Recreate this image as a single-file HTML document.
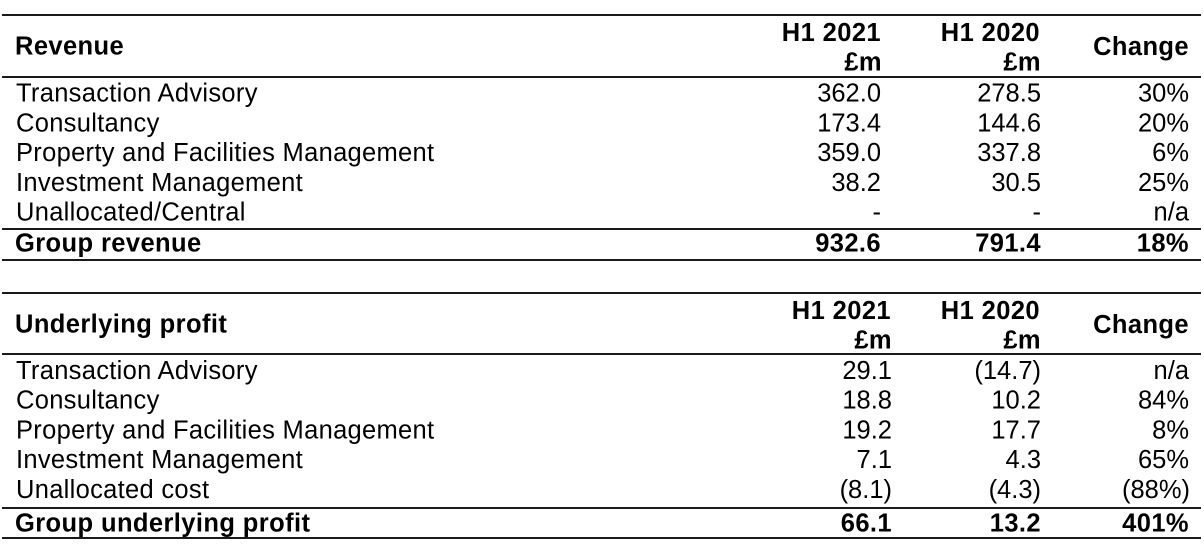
<!DOCTYPE html>
<html>
<head>
<meta charset="utf-8">
<style>
  html, body { margin:0; padding:0; background:#fff; }
  body { width:1204px; height:550px; overflow:hidden; }
  svg { display:block; }
  text { font-family:"Liberation Sans", Arial, Helvetica, sans-serif; font-size:25.5px; fill:#000; }
  .b { font-weight:bold; letter-spacing:0.4px; }
  .l { letter-spacing:0.3px; }
  .e { text-anchor:end; }
</style>
</head>
<body>
<svg width="1204" height="550" viewBox="0 0 1204 550" xmlns="http://www.w3.org/2000/svg">
  <!-- Table 1 rules -->
  <rect x="2" y="14" width="1199" height="2" fill="#1a1a1a"/>
  <rect x="2" y="76" width="1199" height="2" fill="#1a1a1a"/>
  <rect x="2" y="228" width="1199" height="2" fill="#1a1a1a"/>
  <rect x="2" y="259" width="1199" height="2" fill="#1a1a1a"/>

  <!-- Table 1 header -->
  <text class="b" x="15" y="54.5">Revenue</text>
  <text class="b e" x="881" y="41">H1 2021</text>
  <text class="b e" x="882" y="70.5">£m</text>
  <text class="b e" x="1040" y="41">H1 2020</text>
  <text class="b e" x="1041" y="70.5">£m</text>
  <text class="b e" x="1189" y="55">Change</text>

  <!-- Table 1 rows -->
  <text class="l" x="16" y="101.5">Transaction Advisory</text>
  <text class="e" x="881" y="101.5">362.0</text>
  <text class="e" x="1041" y="101.5">278.5</text>
  <text class="e" x="1189" y="101.5">30%</text>

  <text class="l" x="16" y="131.3">Consultancy</text>
  <text class="e" x="881" y="131.3">173.4</text>
  <text class="e" x="1041" y="131.3">144.6</text>
  <text class="e" x="1189" y="131.3">20%</text>

  <text class="l" x="16" y="161.1">Property and Facilities Management</text>
  <text class="e" x="881" y="161.1">359.0</text>
  <text class="e" x="1041" y="161.1">337.8</text>
  <text class="e" x="1189" y="161.1">6%</text>

  <text class="l" x="16" y="190.9">Investment Management</text>
  <text class="e" x="881" y="190.9">38.2</text>
  <text class="e" x="1041" y="190.9">30.5</text>
  <text class="e" x="1189" y="190.9">25%</text>

  <text class="l" x="16" y="220.7">Unallocated/Central</text>
  <text class="e" x="881" y="220.7">-</text>
  <text class="e" x="1041" y="220.7">-</text>
  <text class="e" x="1189" y="220.7">n/a</text>

  <text class="b" x="15" y="251.7">Group revenue</text>
  <text class="b e" x="881" y="251.7">932.6</text>
  <text class="b e" x="1041" y="251.7">791.4</text>
  <text class="b e" x="1189" y="251.7">18%</text>

  <!-- Table 2 rules -->
  <rect x="2" y="292" width="1199" height="2" fill="#1a1a1a"/>
  <rect x="2" y="353" width="1199" height="2" fill="#1a1a1a"/>
  <rect x="2" y="507" width="1199" height="2" fill="#1a1a1a"/>
  <rect x="2" y="537" width="1199" height="2" fill="#1a1a1a"/>

  <!-- Table 2 header -->
  <text class="b" x="15" y="332.5">Underlying profit</text>
  <text class="b e" x="891" y="319">H1 2021</text>
  <text class="b e" x="892" y="348.5">£m</text>
  <text class="b e" x="1040" y="319">H1 2020</text>
  <text class="b e" x="1041" y="348.5">£m</text>
  <text class="b e" x="1189" y="333">Change</text>

  <!-- Table 2 rows -->
  <text class="l" x="16" y="379">Transaction Advisory</text>
  <text class="e" x="892" y="379">29.1</text>
  <text class="e" x="1041" y="379">(14.7)</text>
  <text class="e" x="1189" y="379">n/a</text>

  <text class="l" x="16" y="408.7">Consultancy</text>
  <text class="e" x="892" y="408.7">18.8</text>
  <text class="e" x="1041" y="408.7">10.2</text>
  <text class="e" x="1189" y="408.7">84%</text>

  <text class="l" x="16" y="438.5">Property and Facilities Management</text>
  <text class="e" x="892" y="438.5">19.2</text>
  <text class="e" x="1041" y="438.5">17.7</text>
  <text class="e" x="1189" y="438.5">8%</text>

  <text class="l" x="16" y="468.2">Investment Management</text>
  <text class="e" x="892" y="468.2">7.1</text>
  <text class="e" x="1041" y="468.2">4.3</text>
  <text class="e" x="1189" y="468.2">65%</text>

  <text class="l" x="16" y="498">Unallocated cost</text>
  <text class="e" x="892" y="498">(8.1)</text>
  <text class="e" x="1041" y="498">(4.3)</text>
  <text class="e" x="1190" y="498">(88%)</text>

  <text class="b" x="15" y="531.5">Group underlying profit</text>
  <text class="b e" x="892" y="531.5">66.1</text>
  <text class="b e" x="1041" y="531.5">13.2</text>
  <text class="b e" x="1189" y="531.5">401%</text>
</svg>
</body>
</html>
